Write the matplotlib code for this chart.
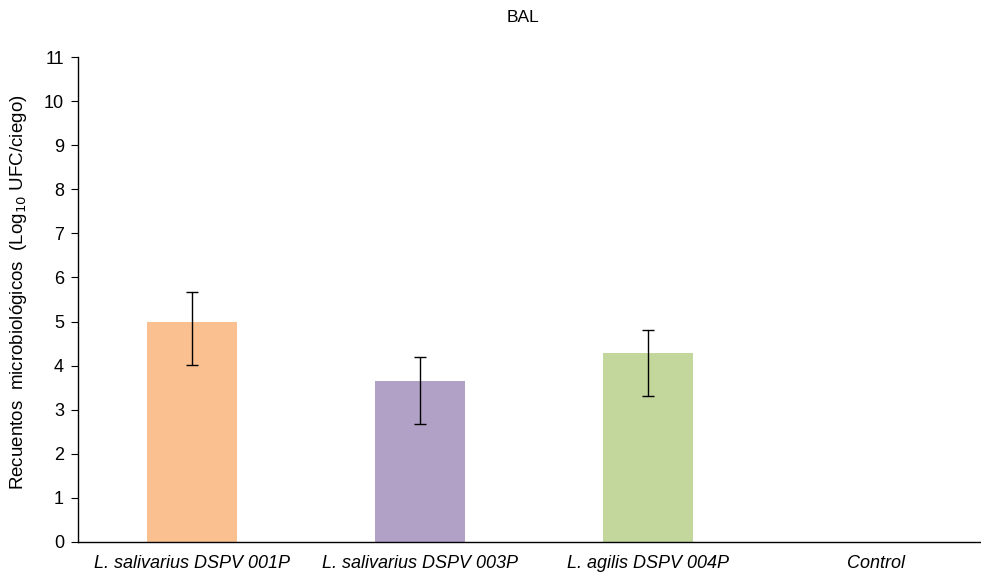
import matplotlib
matplotlib.use("Agg")
import matplotlib.pyplot as plt
import numpy as np

plt.rcParams['font.family'] = ['Liberation Sans', 'DejaVu Sans']

categories = ["L. salivarius DSPV 001P", "L. salivarius DSPV 003P",
              "L. agilis DSPV 004P", "Control"]
means = [5.0, 3.66, 4.29, 0.0]
err_lower = [0.99, 0.98, 0.98, 0.0]
err_upper = [0.66, 0.54, 0.52, 0.0]
colors = ["#FAC090", "#B2A1C7", "#C3D69B", "#FFFFFF"]
yticks = list(range(0, 12))

fig = plt.figure(figsize=(9.81, 5.78), dpi=100)
ax = fig.add_axes([78 / 981, 1 - 542 / 578, 912 / 981, (542 - 57) / 578])

x = np.arange(len(categories))
ax.bar(x[:3], means[:3], width=0.395, color=colors[:3], zorder=2)
ax.errorbar(x[:3], means[:3], yerr=[err_lower[:3], err_upper[:3]], fmt='none',
            ecolor='black', elinewidth=1.0, capsize=4.5, capthick=1.0, zorder=3)

ax.set_xlim(-0.5, 3.5)
ax.set_ylim(0, 11)
ax.set_yticks(yticks)
ax.set_xticks(x)
ax.set_xticklabels(categories, fontstyle='italic', fontsize=13)
ax.tick_params(axis='x', length=0, pad=9)
ax.tick_params(axis='y', direction='out', length=5, width=0.8, labelsize=13, pad=5)
for s in ['top', 'right']:
    ax.spines[s].set_visible(False)
ax.spines['left'].set_linewidth(1.0)
ax.spines['bottom'].set_linewidth(1.0)

fig.text(19 / 981, 1 - 292 / 578,
         "Recuentos  microbiológicos  (Log$_{10}$ UFC/ciego)",
         rotation=90, ha='center', va='center', fontsize=13.5)
fig.text(523 / 981, 1 - 17 / 578, "BAL", ha='center', va='center', fontsize=12.5)

fig.savefig("out.png", dpi=100)
